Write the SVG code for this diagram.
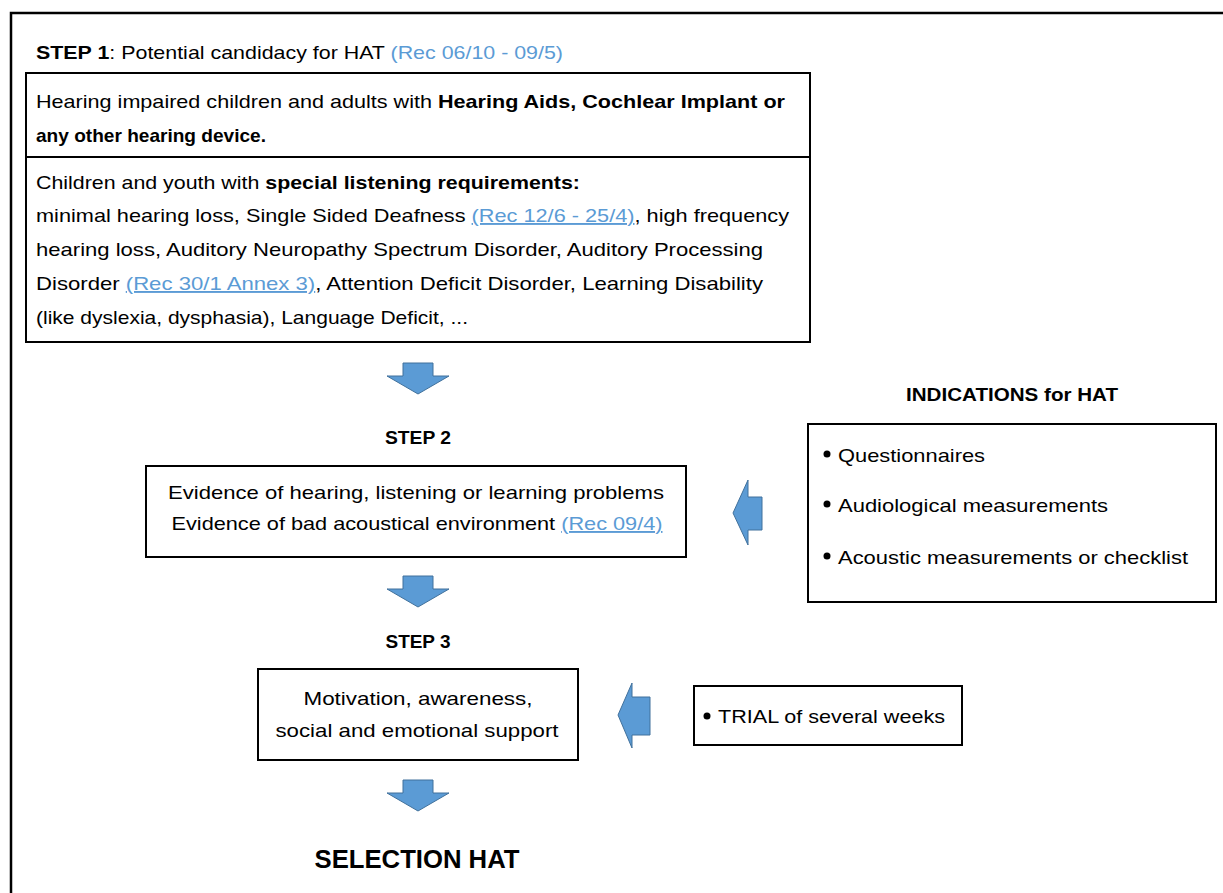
<svg xmlns="http://www.w3.org/2000/svg" width="1223" height="893" viewBox="0 0 1223 893">
<style>
text{font-family:"Liberation Sans",Arial,sans-serif;font-size:19px;fill:#000}
.b{font-weight:bold}
.lk{fill:#5B9BD5;text-decoration:underline}
.rc{fill:#5B9BD5}
.box{fill:#fff;stroke:#000;stroke-width:2}
.arr{fill:#5B9BD5;stroke:#41719C;stroke-width:1}
.bul{fill:#000}
</style>
<rect width="1223" height="893" fill="#fff"/>
<path d="M11,893 V13 H1223" fill="none" stroke="#000" stroke-width="2.5"/>

<g id="step1-title">
<text x="36" y="59" textLength="527" lengthAdjust="spacingAndGlyphs"><tspan class="b">STEP 1</tspan>: Potential candidacy for HAT <tspan class="rc">(Rec 06/10 - 09/5)</tspan></text>
</g>

<g id="step1-box">
<rect class="box" x="26" y="73" width="784" height="269"/>
<line x1="26" y1="157" x2="810" y2="157" stroke="#000" stroke-width="2"/>
<text x="36" y="108" textLength="749" lengthAdjust="spacingAndGlyphs">Hearing impaired children and adults with <tspan class="b">Hearing Aids, Cochlear Implant or</tspan></text>
<text x="36" y="142" class="b" textLength="230" lengthAdjust="spacingAndGlyphs">any other hearing device.</text>
<text x="36" y="189" textLength="544" lengthAdjust="spacingAndGlyphs">Children and youth with <tspan class="b">special listening requirements:</tspan></text>
<text x="36" y="222" textLength="753" lengthAdjust="spacingAndGlyphs">minimal hearing loss, Single Sided Deafness <tspan class="lk">(Rec 12/6 - 25/4)</tspan>, high frequency</text>
<text x="36" y="256" textLength="727" lengthAdjust="spacingAndGlyphs">hearing loss, Auditory Neuropathy Spectrum Disorder, Auditory Processing</text>
<text x="36" y="290" textLength="727" lengthAdjust="spacingAndGlyphs">Disorder <tspan class="lk">(Rec 30/1 Annex 3)</tspan>, Attention Deficit Disorder, Learning Disability</text>
<text x="36" y="324" textLength="432" lengthAdjust="spacingAndGlyphs">(like dyslexia, dysphasia), Language Deficit, ...</text>
</g>

<g id="connectors">
<path class="arr" d="M403,363 H433 V376 H449 L418,394 L387,376 H403 Z"/>
<path class="arr" d="M403,576 H433 V589 H449 L418,607 L387,589 H403 Z"/>
<path class="arr" d="M403,780 H433 V793 H449 L418,811 L387,793 H403 Z"/>
<path class="arr" d="M762,497 V530 H748 V545 L733,513 L748,480 V497 Z"/>
<path class="arr" d="M650,697 V735 H632 V748 L618,715 L632,683 V697 Z"/>
</g>

<g id="step2">
<text x="418" y="444" class="b" text-anchor="middle" textLength="66" lengthAdjust="spacingAndGlyphs">STEP 2</text>
<rect class="box" x="146" y="466" width="540" height="91"/>
<text x="416" y="499" text-anchor="middle" textLength="496" lengthAdjust="spacingAndGlyphs">Evidence of hearing, listening or learning problems</text>
<text x="417" y="530" text-anchor="middle" textLength="491" lengthAdjust="spacingAndGlyphs">Evidence of bad acoustical environment <tspan class="lk">(Rec 09/4)</tspan></text>
</g>

<g id="indications">
<text x="1012" y="401" class="b" text-anchor="middle" textLength="212" lengthAdjust="spacingAndGlyphs">INDICATIONS for HAT</text>
<rect class="box" x="808" y="424" width="408" height="178"/>
<circle class="bul" cx="827" cy="454" r="3.5"/>
<text x="838" y="462" textLength="147" lengthAdjust="spacingAndGlyphs">Questionnaires</text>
<circle class="bul" cx="827" cy="504" r="3.5"/>
<text x="838" y="512" textLength="270" lengthAdjust="spacingAndGlyphs">Audiological measurements</text>
<circle class="bul" cx="827" cy="556" r="3.5"/>
<text x="838" y="564" textLength="350" lengthAdjust="spacingAndGlyphs">Acoustic measurements or checklist</text>
</g>

<g id="step3">
<text x="418" y="648" class="b" text-anchor="middle" textLength="65" lengthAdjust="spacingAndGlyphs">STEP 3</text>
<rect class="box" x="258" y="669" width="320" height="91"/>
<text x="418" y="705" text-anchor="middle" textLength="229" lengthAdjust="spacingAndGlyphs">Motivation, awareness,</text>
<text x="417" y="737" text-anchor="middle" textLength="283" lengthAdjust="spacingAndGlyphs">social and emotional support</text>
</g>

<g id="trial">
<rect class="box" x="694" y="686" width="268" height="59"/>
<circle class="bul" cx="707" cy="716" r="3.5"/>
<text x="718" y="723" textLength="227" lengthAdjust="spacingAndGlyphs">TRIAL of several weeks</text>
</g>

<g id="selection">
<text x="417" y="868" class="b" text-anchor="middle" style="font-size:25px" textLength="205" lengthAdjust="spacingAndGlyphs">SELECTION HAT</text>
</g>
</svg>
